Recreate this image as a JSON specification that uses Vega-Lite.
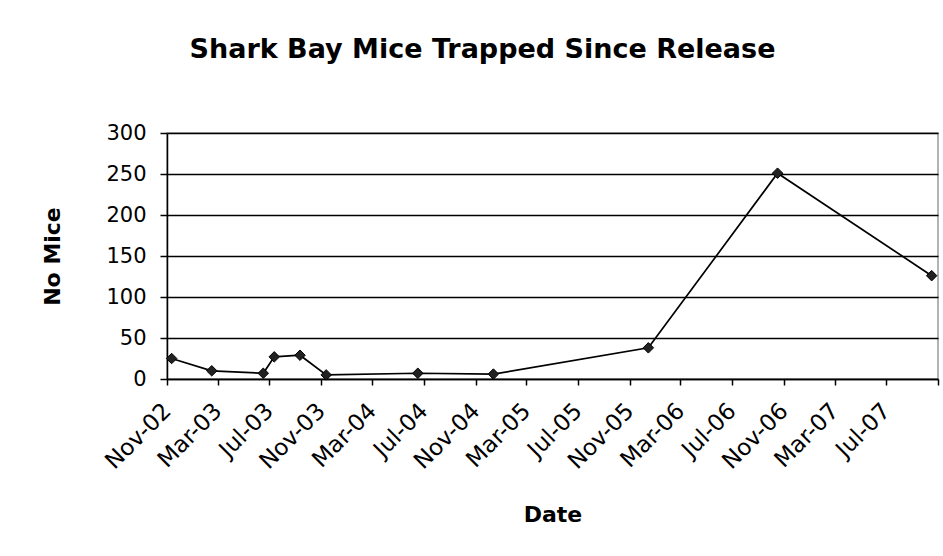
{
  "$schema": "https://vega.github.io/schema/vega-lite/v6.json",
  "width": 771,
  "height": 246,
  "autosize": {"type": "none"},
  "padding": {"left": 167, "top": 133, "right": 5, "bottom": 177},
  "background": "white",
  "config": {
    "view": {"stroke": "#9a9a9a", "strokeWidth": 1.5},
    "font": "DejaVu Sans"
  },
  "title": {
    "text": "Shark Bay Mice Trapped Since Release",
    "font": "DejaVu Sans",
    "fontSize": 27,
    "fontWeight": "bold",
    "color": "black",
    "anchor": "middle",
    "frame": "group",
    "dx": -70,
    "offset": 37,
    "baseline": "alphabetic"
  },
  "data": {
    "values": [
      {"date": "2002-11-12", "mice": 25},
      {"date": "2003-02-15", "mice": 10},
      {"date": "2003-06-17", "mice": 7},
      {"date": "2003-07-13", "mice": 27},
      {"date": "2003-09-12", "mice": 29},
      {"date": "2003-11-13", "mice": 5},
      {"date": "2004-06-17", "mice": 7},
      {"date": "2004-12-13", "mice": 6},
      {"date": "2005-12-15", "mice": 38},
      {"date": "2006-10-17", "mice": 251},
      {"date": "2007-10-17", "mice": 126}
    ]
  },
  "encoding": {
    "x": {
      "field": "date",
      "type": "temporal",
      "title": "Date",
      "scale": {
        "type": "utc",
        "domain": [
          {"year": 2002, "month": 11, "date": 1, "utc": true},
          {"year": 2007, "month": 11, "date": 1, "utc": true}
        ]
      },
      "axis": {
        "values": [
          {"year": 2002, "month": 11, "date": 1, "utc": true},
          {"year": 2003, "month": 3, "date": 1, "utc": true},
          {"year": 2003, "month": 7, "date": 1, "utc": true},
          {"year": 2003, "month": 11, "date": 1, "utc": true},
          {"year": 2004, "month": 3, "date": 1, "utc": true},
          {"year": 2004, "month": 7, "date": 1, "utc": true},
          {"year": 2004, "month": 11, "date": 1, "utc": true},
          {"year": 2005, "month": 3, "date": 1, "utc": true},
          {"year": 2005, "month": 7, "date": 1, "utc": true},
          {"year": 2005, "month": 11, "date": 1, "utc": true},
          {"year": 2006, "month": 3, "date": 1, "utc": true},
          {"year": 2006, "month": 7, "date": 1, "utc": true},
          {"year": 2006, "month": 11, "date": 1, "utc": true},
          {"year": 2007, "month": 3, "date": 1, "utc": true},
          {"year": 2007, "month": 7, "date": 1, "utc": true},
          {"year": 2007, "month": 11, "date": 1, "utc": true}
        ],
        "labelExpr": "utcyear(datum.value) == 2007 && utcmonth(datum.value) == 10 ? '' : utcFormat(datum.value, '%b-%y')",
        "labelAngle": -45,
        "labelAlign": "right",
        "labelBaseline": "middle",
        "labelFont": "DejaVu Sans",
        "labelFontSize": 23,
        "labelColor": "black",
        "labelPadding": 22,
        "labelOverlap": false,
        "labelBound": false,
        "labelFlush": false,
        "grid": false,
        "domainColor": "black",
        "domainWidth": 1.5,
        "tickColor": "black",
        "tickSize": 6,
        "tickWidth": 1.5,
        "titleFont": "DejaVu Sans",
        "titleFontSize": 22,
        "titleFontWeight": "bold",
        "titleColor": "black",
        "titleBaseline": "alphabetic",
        "titleAnchor": "middle",
        "titleY": 142
      }
    },
    "y": {
      "field": "mice",
      "type": "quantitative",
      "title": "No Mice",
      "scale": {"domain": [0, 300], "nice": false},
      "axis": {
        "values": [0, 50, 100, 150, 200, 250, 300],
        "labelFont": "DejaVu Sans",
        "labelFontSize": 21,
        "labelColor": "black",
        "labelPadding": 14,
        "grid": true,
        "gridColor": "black",
        "gridWidth": 1.3,
        "gridOpacity": 1,
        "domainColor": "black",
        "domainWidth": 1.5,
        "tickColor": "black",
        "tickSize": 7,
        "tickWidth": 1.5,
        "titleFont": "DejaVu Sans",
        "titleFontSize": 22,
        "titleFontWeight": "bold",
        "titleColor": "black",
        "titleBaseline": "alphabetic",
        "titleAnchor": "middle",
        "titleX": -108
      }
    }
  },
  "layer": [
    {"mark": {"type": "line", "color": "black", "strokeWidth": 1.7}},
    {"mark": {"type": "point", "shape": "diamond", "filled": true, "color": "#222222", "stroke": "black", "strokeWidth": 1, "size": 110, "opacity": 1}}
  ]
}
